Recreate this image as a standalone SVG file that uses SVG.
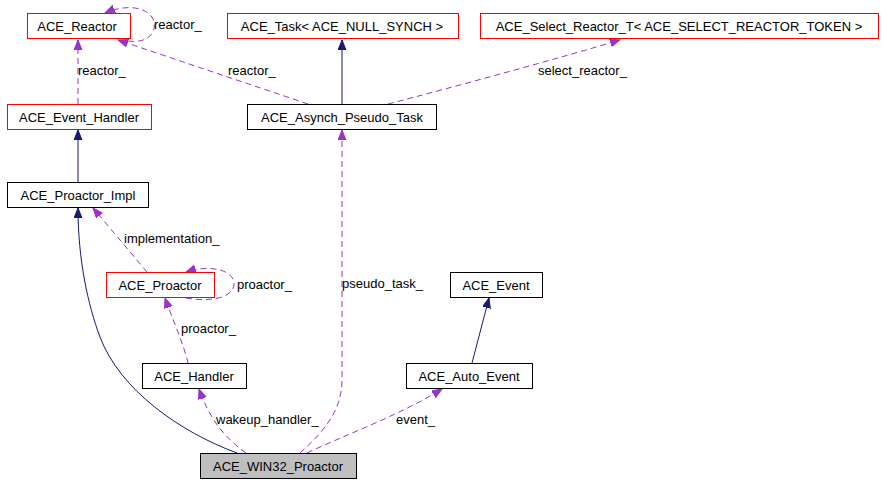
<svg xmlns="http://www.w3.org/2000/svg" width="883" height="484" viewBox="0 0 883 484">
<style>
  text { font-family: "Liberation Sans", Arial, sans-serif; font-size: 13px; fill: #000; }
  .node text { text-anchor: middle; }
  .red { fill: #fff; stroke: #ff0000; stroke-width: 1; }
  .blk { fill: #fff; stroke: #000; stroke-width: 1; }
  .cur { fill: #bfbfbf; stroke: #000; stroke-width: 1; }
  .use { fill: none; stroke: #9a32cd; stroke-width: 1; stroke-dasharray: 6,4; marker-end: url(#ap); }
  .inh { fill: none; stroke: #191970; stroke-width: 1; marker-end: url(#an); }
</style>
<defs>
  <marker id="ap" markerUnits="userSpaceOnUse" markerWidth="12" markerHeight="10" refX="10" refY="4" orient="auto">
    <path d="M0,0 L10,4 L0,8 z" fill="#9a32cd" stroke="#9a32cd" stroke-width="1"/>
  </marker>
  <marker id="an" markerUnits="userSpaceOnUse" markerWidth="12" markerHeight="10" refX="10" refY="4" orient="auto">
    <path d="M0,0 L10,4 L0,8 z" fill="#191970" stroke="#191970" stroke-width="1"/>
  </marker>
</defs>
<rect width="883" height="484" fill="#fff"/>

<g id="edges">
  <path class="use" d="M128,41 C150,44 158,30 153,19 C148,8 128,3 105,13"/>
  <path class="use" d="M78,104 L78,40"/>
  <path class="use" d="M308,104 L118,40"/>
  <path class="inh" d="M342,104 L342,40"/>
  <path class="use" d="M388,104 C450,88 560,58 620,40"/>
  <path class="inh" d="M78,182 L78,130"/>
  <path class="use" d="M147,272 L93,208"/>
  <path class="use" d="M186,298 C214,303 234,296 234,284 C234,270 210,264 186,272"/>
  <path class="use" d="M188,363 C184,345 172,318 165,298"/>
  <path class="inh" d="M237,453 C180,432 120,390 100,337 C88,305 78,260 78,208"/>
  <path class="use" d="M246,453 C225,438 210,420 199,389"/>
  <path class="use" d="M300,453 C322,433 342,412 342,380 L342,130"/>
  <path class="use" d="M307,453 C345,435 400,415 442,389"/>
  <path class="inh" d="M472,363 L489,298"/>
  <text x="154" y="29">reactor_</text>
  <text x="78" y="75">reactor_</text>
  <text x="228" y="75">reactor_</text>
  <text x="538" y="75">select_reactor_</text>
  <text x="124" y="243">implementation_</text>
  <text x="237" y="289">proactor_</text>
  <text x="181" y="333">proactor_</text>
  <text x="342" y="288">pseudo_task_</text>
  <text x="216" y="424">wakeup_handler_</text>
  <text x="396" y="424">event_</text>
</g>

<g id="ACE_Reactor" class="node">
  <rect class="red" x="27.5" y="13.5" width="103" height="25"/>
  <text x="77" y="31">ACE_Reactor</text>
</g>
<g id="ACE_Task" class="node">
  <rect class="red" x="227.5" y="13.5" width="231" height="25"/>
  <text x="342" y="31">ACE_Task&lt; ACE_NULL_SYNCH &gt;</text>
</g>
<g id="ACE_Select_Reactor_T" class="node">
  <rect class="red" x="480.5" y="13.5" width="398" height="25"/>
  <text x="679" y="31">ACE_Select_Reactor_T&lt; ACE_SELECT_REACTOR_TOKEN &gt;</text>
</g>
<g id="ACE_Event_Handler" class="node">
  <rect class="red" x="7.5" y="104.5" width="144" height="25"/>
  <text x="79" y="122">ACE_Event_Handler</text>
</g>
<g id="ACE_Asynch_Pseudo_Task" class="node">
  <rect class="blk" x="247.5" y="104.5" width="189" height="25"/>
  <text x="342" y="122">ACE_Asynch_Pseudo_Task</text>
</g>
<g id="ACE_Proactor_Impl" class="node">
  <rect class="blk" x="7.5" y="182.5" width="141" height="25"/>
  <text x="78" y="200">ACE_Proactor_Impl</text>
</g>
<g id="ACE_Proactor" class="node">
  <rect class="red" x="106.5" y="272.5" width="108" height="25"/>
  <text x="160" y="290">ACE_Proactor</text>
</g>
<g id="ACE_Event" class="node">
  <rect class="blk" x="450.5" y="272.5" width="92" height="25"/>
  <text x="496" y="290">ACE_Event</text>
</g>
<g id="ACE_Handler" class="node">
  <rect class="blk" x="142.5" y="363.5" width="104" height="25"/>
  <text x="194" y="381">ACE_Handler</text>
</g>
<g id="ACE_Auto_Event" class="node">
  <rect class="blk" x="406.5" y="363.5" width="126" height="25"/>
  <text x="469" y="381">ACE_Auto_Event</text>
</g>
<g id="ACE_WIN32_Proactor" class="node">
  <rect class="cur" x="200.5" y="453.5" width="156" height="25"/>
  <text x="278" y="471">ACE_WIN32_Proactor</text>
</g>
</svg>
